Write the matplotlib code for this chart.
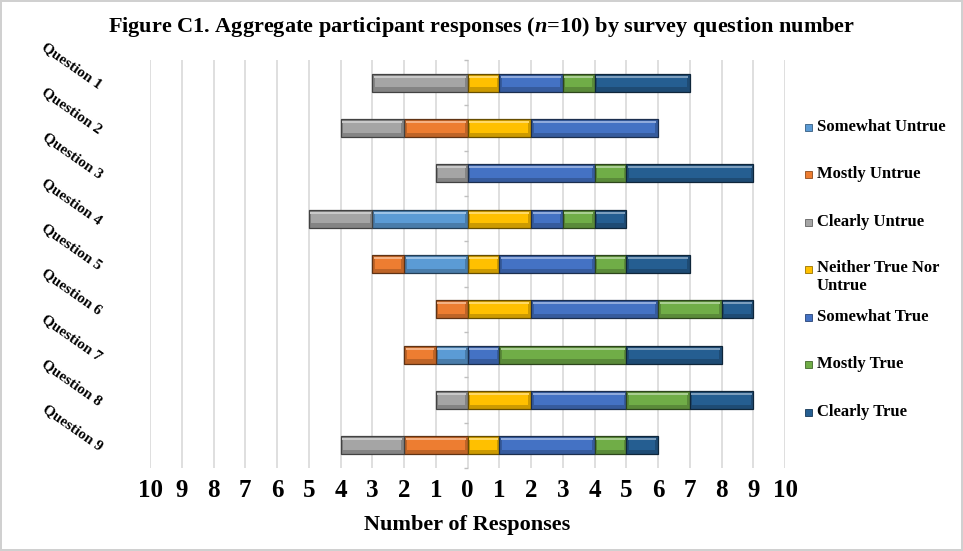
import matplotlib.pyplot as plt
import numpy as np
from matplotlib.colors import to_rgb

plt.rcParams["font.family"] = "Liberation Serif"
plt.rcParams["font.weight"] = "bold"
plt.rcParams["mathtext.fontset"] = "custom"
plt.rcParams["mathtext.it"] = "Liberation Serif:italic:bold"
plt.rcParams["mathtext.rm"] = "Liberation Serif:bold"

questions = ["Question 1", "Question 2", "Question 3", "Question 4", "Question 5",
             "Question 6", "Question 7", "Question 8", "Question 9"]

# negative side (plotted left of zero, innermost first)
somewhat_untrue = [0, 0, 0, 3, 2, 0, 1, 0, 0]
mostly_untrue   = [0, 2, 0, 0, 1, 1, 1, 0, 2]
clearly_untrue  = [3, 2, 1, 2, 0, 0, 0, 1, 2]
# positive side
neither         = [1, 2, 0, 2, 1, 2, 0, 2, 1]
somewhat_true   = [2, 4, 4, 1, 3, 4, 1, 3, 3]
mostly_true     = [1, 0, 1, 1, 1, 2, 4, 2, 1]
clearly_true    = [3, 0, 4, 1, 2, 1, 3, 2, 1]

neg_series = [("Somewhat Untrue", somewhat_untrue, "#5B9BD5"),
              ("Mostly Untrue", mostly_untrue, "#ED7D31"),
              ("Clearly Untrue", clearly_untrue, "#A5A5A5")]
pos_series = [("Neither True Nor\nUntrue", neither, "#FFC000"),
              ("Somewhat True", somewhat_true, "#4472C4"),
              ("Mostly True", mostly_true, "#70AD47"),
              ("Clearly True", clearly_true, "#255E91")]


def shade(c, f):
    r = np.array(to_rgb(c))
    if f > 0:
        return tuple(r + (1 - r) * f)
    return tuple(r * (1 + f))


def bevel_bar(ax, y, w, left, color, h=0.4):
    # flat face plus lighter top strip and darker rim for a raised look
    ax.barh(y, w, left=left, height=h, color=shade(color, -0.2),
            edgecolor=shade(color, -0.6), linewidth=0.9, zorder=3)
    ax.barh(y - h * 0.05, w - 0.16, left=left + 0.08, height=h * 0.62,
            color=color, linewidth=0, zorder=4)
    ax.barh(y - h * 0.33, w - 0.1, left=left + 0.05, height=h * 0.12,
            color=shade(color, 0.4), linewidth=0, zorder=4)


fig = plt.figure(figsize=(9.63, 5.51), dpi=100)
fig.patch.set_edgecolor("#d0d0d0")
fig.patch.set_linewidth(1.5)
ax = fig.add_axes([150 / 963, 1 - 468 / 551, 635 / 963, 408 / 551])

y = np.arange(len(questions))

left = np.zeros(len(questions))
for name, vals, col in neg_series:
    vals = np.array(vals, dtype=float)
    left = left - vals
    for i in y:
        if vals[i] > 0:
            bevel_bar(ax, i, vals[i], left[i], col)

left = np.zeros(len(questions))
for name, vals, col in pos_series:
    vals = np.array(vals, dtype=float)
    for i in y:
        if vals[i] > 0:
            bevel_bar(ax, i, vals[i], left[i], col)
    left = left + vals

ax.set_xlim(-10, 10)
ax.set_ylim(len(questions) - 0.5, -0.5)
ticks = np.arange(-10, 11)
ax.set_xticks(ticks)
ax.set_xticklabels([str(abs(t)) for t in ticks], fontsize=18)
ax.tick_params(axis="x", length=0, pad=8)
ax.grid(axis="x", color="#d9d9d9", linewidth=1.2, zorder=0)
ax.set_axisbelow(True)
for s in ax.spines.values():
    s.set_visible(False)

# category ticks on the zero axis
ax.spines["left"].set_position(("data", 0))
ax.set_yticks(np.arange(-0.5, len(questions)), minor=True)
ax.set_yticks([])
ax.tick_params(axis="y", which="minor", length=3, color="#bfbfbf", width=1)

for i, q in enumerate(questions):
    ax.text(-12.45, i - 0.38, q, rotation=-35, ha="center", va="center",
            rotation_mode="anchor", fontsize=11, clip_on=False)

ax.set_xlabel("Number of Responses", fontsize=16, fontweight="bold", labelpad=9)
fig.suptitle("Figure C1. Aggregate participant responses ($n$=10) by survey question number",
             y=1 - 27 / 551, va="center", fontsize=16, fontweight="bold")

# legend column on the right
entries = [(n, c) for n, v, c in neg_series] + [(n, c) for n, v, c in pos_series]
for k, (name, col) in enumerate(entries):
    yy = 1 - (127 + k * 47.5) / 551
    fig.patches.append(plt.Rectangle((805 / 963, yy - 3.5 / 551), 7 / 963, 7 / 551,
                                     transform=fig.transFigure, facecolor=col,
                                     edgecolor=shade(col, -0.4), linewidth=0.6))
    if "\n" in name:
        fig.text(817 / 963, yy + 9 / 551, name, fontsize=12, va="top", ha="left",
                 linespacing=1.1)
    else:
        fig.text(817 / 963, yy, name, fontsize=12, va="center", ha="left")

fig.savefig("out.png", dpi=100)
